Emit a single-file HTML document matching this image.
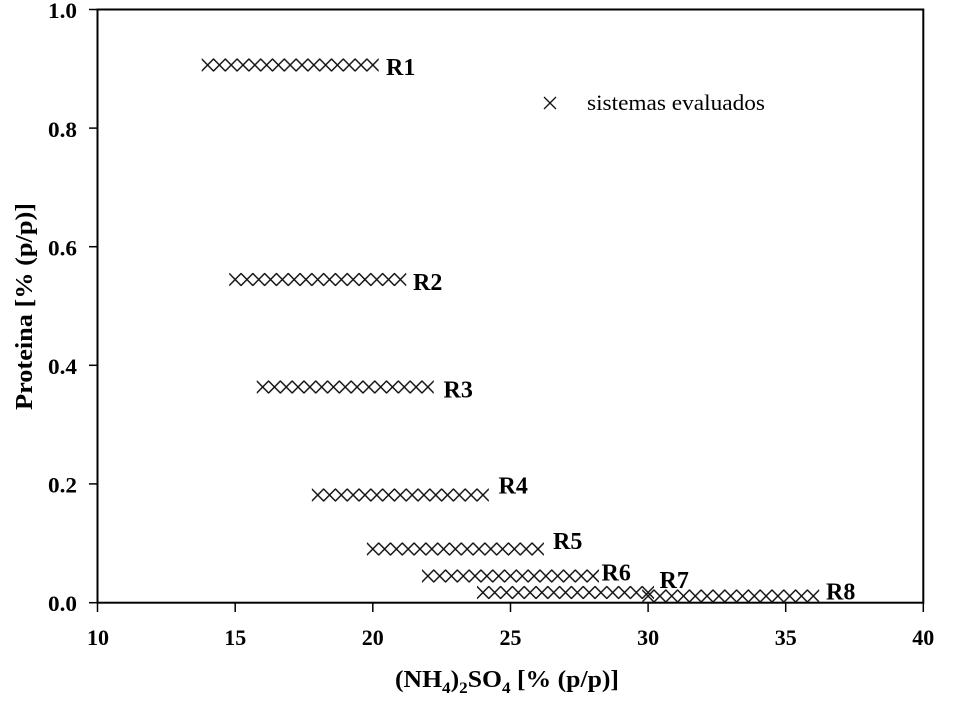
<!DOCTYPE html>
<html>
<head>
<meta charset="utf-8">
<style>
  html, body { margin: 0; padding: 0; background: #ffffff; }
  body { width: 959px; height: 703px; overflow: hidden; }
  svg { display: block; }
  text { font-family: "Liberation Serif", "Times New Roman", serif; fill: #000; }
  .tick { font-size: 22px; font-weight: bold; }
  .lab { font-size: 24px; font-weight: bold; }
</style>
</head>
<body>
<svg width="959" height="703" viewBox="0 0 959 703" xmlns="http://www.w3.org/2000/svg">
  <defs>
    <pattern id="xp" patternUnits="userSpaceOnUse" x="-5.9" y="-7" width="11.799" height="14">
      <path d="M -0.2 0.8 L 12 13.2 M -0.2 13.2 L 12 0.8" stroke="#111" stroke-width="1.4" fill="none"/>
    </pattern>
  </defs>

  <!-- frame -->
  <rect x="97.5" y="9.5" width="825.8" height="593.2" fill="none" stroke="#000" stroke-width="2"/>

  <!-- y ticks -->
  <g stroke="#000" stroke-width="1.5">
    <line x1="89" y1="9.5" x2="97.5" y2="9.5"/>
    <line x1="89" y1="128.1" x2="97.5" y2="128.1"/>
    <line x1="89" y1="246.7" x2="97.5" y2="246.7"/>
    <line x1="89" y1="365.3" x2="97.5" y2="365.3"/>
    <line x1="89" y1="483.9" x2="97.5" y2="483.9"/>
    <line x1="89" y1="602.7" x2="97.5" y2="602.7"/>
  </g>
  <!-- x ticks -->
  <g stroke="#000" stroke-width="1.5">
    <line x1="97.5" y1="602.7" x2="97.5" y2="612"/>
    <line x1="235.2" y1="602.7" x2="235.2" y2="612"/>
    <line x1="372.8" y1="602.7" x2="372.8" y2="612"/>
    <line x1="510.5" y1="602.7" x2="510.5" y2="612"/>
    <line x1="648.1" y1="602.7" x2="648.1" y2="612"/>
    <line x1="785.7" y1="602.7" x2="785.7" y2="612"/>
    <line x1="923.3" y1="602.7" x2="923.3" y2="612"/>
  </g>

  <!-- y tick labels -->
  <g class="tick" text-anchor="end">
    <text x="77" y="18" textLength="29" lengthAdjust="spacingAndGlyphs">1.0</text>
    <text x="77" y="136.8" textLength="29" lengthAdjust="spacingAndGlyphs">0.8</text>
    <text x="77" y="255.7" textLength="29" lengthAdjust="spacingAndGlyphs">0.6</text>
    <text x="77" y="374" textLength="29" lengthAdjust="spacingAndGlyphs">0.4</text>
    <text x="77" y="492.6" textLength="29" lengthAdjust="spacingAndGlyphs">0.2</text>
    <text x="77" y="611" textLength="29" lengthAdjust="spacingAndGlyphs">0.0</text>
  </g>

  <!-- x tick labels -->
  <g class="tick" text-anchor="middle">
    <text x="98" y="645">10</text>
    <text x="235.2" y="645">15</text>
    <text x="372.8" y="645">20</text>
    <text x="510.5" y="645">25</text>
    <text x="648.1" y="645">30</text>
    <text x="785.7" y="645">35</text>
    <text x="923.3" y="645">40</text>
  </g>

  <!-- axis titles -->
  <text x="395" y="687" font-size="24" font-weight="bold" textLength="224" lengthAdjust="spacingAndGlyphs">(NH<tspan font-size="16" dy="6">4</tspan><tspan dy="-6">)</tspan><tspan font-size="16" dy="6">2</tspan><tspan dy="-6">SO</tspan><tspan font-size="16" dy="6">4</tspan><tspan dy="-6"> [% (p/p)]</tspan></text>

  <text transform="translate(32,306.5) rotate(-90)" text-anchor="middle" font-size="24" font-weight="bold" textLength="207" lengthAdjust="spacingAndGlyphs">Proteina [% (p/p)]</text>

  <!-- series (15 markers each) -->
  <g>
    <rect transform="translate(207.62,65)" x="-5.9" y="-7" width="176.99" height="14" fill="url(#xp)"/>
    <rect transform="translate(235.15,279.5)" x="-5.9" y="-7" width="176.99" height="14" fill="url(#xp)"/>
    <rect transform="translate(262.68,387)" x="-5.9" y="-7" width="176.99" height="14" fill="url(#xp)"/>
    <rect transform="translate(317.74,495)" x="-5.9" y="-7" width="176.99" height="14" fill="url(#xp)"/>
    <rect transform="translate(372.8,549)" x="-5.9" y="-7" width="176.99" height="14" fill="url(#xp)"/>
    <rect transform="translate(427.86,576)" x="-5.9" y="-7" width="176.99" height="14" fill="url(#xp)"/>
    <rect transform="translate(482.92,592.5)" x="-5.9" y="-7" width="176.99" height="14" fill="url(#xp)"/>
    <rect transform="translate(648.1,596)" x="-5.9" y="-7" width="176.99" height="14" fill="url(#xp)"/>
  </g>

  <!-- series labels -->
  <g class="lab">
    <text x="386" y="75">R1</text>
    <text x="413" y="290">R2</text>
    <text x="443.5" y="397.5">R3</text>
    <text x="498.5" y="493.5">R4</text>
    <text x="553" y="549">R5</text>
    <text x="601.5" y="580.5">R6</text>
    <text x="659.5" y="588">R7</text>
    <text x="826" y="599.5">R8</text>
  </g>

  <!-- legend -->
  <path d="M 544 97 L 556 109 M 544 109 L 556 97" stroke="#111" stroke-width="1.3" fill="none"/>
  <text x="587" y="110" font-size="22" textLength="178" lengthAdjust="spacingAndGlyphs">sistemas evaluados</text>
</svg>
</body>
</html>
